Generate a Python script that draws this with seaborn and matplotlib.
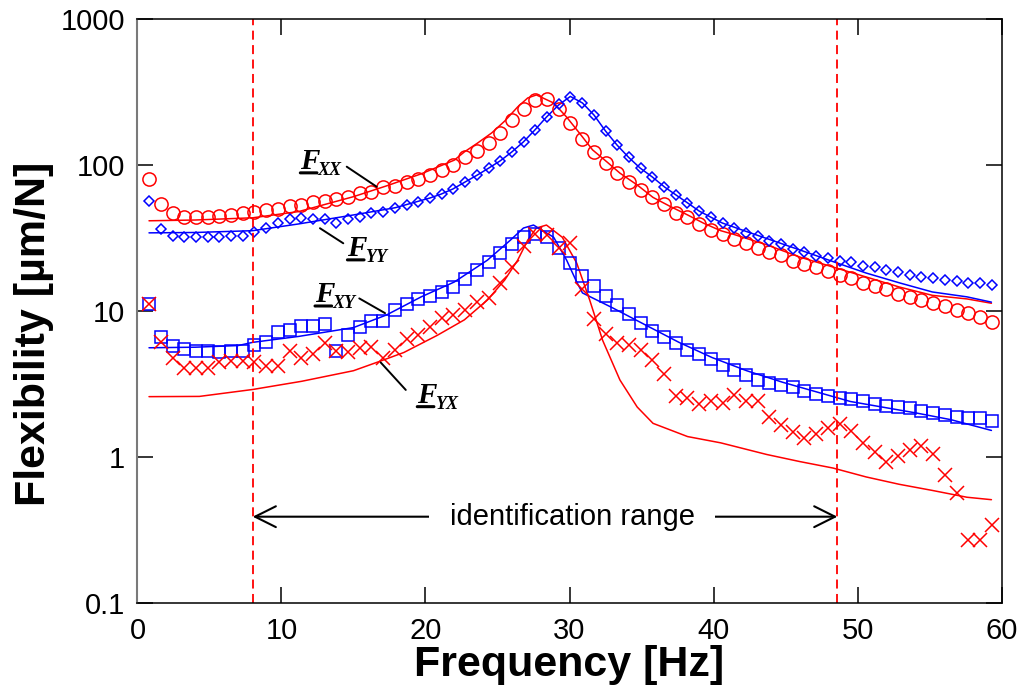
import numpy as np
import seaborn as sns
import matplotlib.pyplot as plt
from matplotlib.ticker import NullLocator

# measured flexibility (um/N), one value per frequency line
fxx_meas = [80, 54, 47, 44, 44, 44, 44.5, 45.5, 47, 48, 49.5, 50, 52, 53, 56, 57, 58.5, 60,
            64, 65, 71, 72, 76, 80, 85, 92, 100, 113, 125, 141, 165, 203, 242, 279, 283, 242,
            193, 150, 123, 103, 88, 76, 67, 60, 54, 47, 44, 39.5, 36, 33.7, 31, 29.2, 27, 25.3,
            24.2, 22, 21, 20, 18.8, 17.6, 16.8, 15.6, 14.8, 14.1, 13.1, 12.5, 11.9, 11.3, 10.8,
            10.2, 9.7, 9.1, 8.4]
fyy_meas = [57, 36.5, 32.8, 32.1, 32.1, 32.1, 32.1, 32.6, 32.6, 34.8, 37, 40, 42.7, 43.6, 42.7,
            42.7, 40.3, 42.7, 44, 47, 47.7, 50.8, 53.2, 55.7, 59.4, 63.3, 68.5, 76.5, 85.4, 95.4,
            106.5, 122.7, 143.6, 173.6, 213, 260, 293, 266, 220, 171, 137, 113, 95.4, 82.8, 70.7,
            62.3, 55, 48.4, 44, 40.1, 37, 34.2, 32.6, 30.1, 28.8, 26.6, 25.4, 23.8, 23.1, 22,
            21.7, 20.3, 20, 19.1, 18.5, 17.6, 17.1, 16.8, 16.2, 16, 15.6, 15.6, 15.1]
fxy_meas = [11.2, 6.6, 5.75, 5.5, 5.3, 5.3, 5.2, 5.3, 5.3, 5.85, 6.1, 7.2, 7.4, 7.9, 7.9, 8.2,
            5.3, 6.8, 7.8, 8.55, 8.55, 10.1, 11.1, 12.1, 12.7, 13.5, 14.6, 16.5, 19.1, 21.7, 25,
            28.8, 32.1, 33.7, 32.1, 27, 21.3, 17.4, 14.8, 12.7, 11, 9.6, 8.3, 7.3, 6.6, 6, 5.4,
            5.1, 4.7, 4.27, 3.93, 3.65, 3.37, 3.2, 3.1, 3.01, 2.83, 2.7, 2.6, 2.55, 2.5, 2.4,
            2.3, 2.25, 2.2, 2.15, 2.07, 2.0, 1.94, 1.88, 1.85, 1.85, 1.77]
fyx_meas = [11.2, 6.1, 4.8, 4.1, 4.1, 4.1, 4.5, 4.55, 4.55, 4.5, 4.2, 4.2, 5.3, 4.8, 5.05, 6.0,
            5.3, 5.25, 5.6, 5.7, 4.8, 5.4, 6.4, 6.8, 7.8, 8.9, 9.4, 10.2, 11.5, 12.3, 15.6, 20,
            28, 33.7, 33.2, 27, 29.2, 14.2, 8.8, 7.0, 6.0, 5.85, 5.4, 4.6, 3.7, 2.6, 2.55, 2.3,
            2.4, 2.35, 2.65, 2.4, 2.4, 1.87, 1.66, 1.48, 1.35, 1.43, 1.57, 1.69, 1.5, 1.25, 1.08,
            0.93, 1.01, 1.11, 1.19, 1.05, 0.75, 0.57, 0.27, 0.27, 0.34]
freq_step = 0.8125
freq = freq_step * np.arange(1, len(fxx_meas) + 1)

# identified model curves
fxx_fit_f = [0.8, 4, 8, 11.2, 15, 17.3, 19.7, 22, 22.7, 23.6, 24.6, 25.5, 26.4, 27.1, 27.7, 28.9,
             29.8, 30.7, 31.6, 32.6, 33.5, 34.7, 35.8, 37, 38.2, 39.3, 40.5, 41.4, 43.7, 46,
             48.3, 50.6, 52.9, 55.2, 57.6, 59.3]
fxx_fit = [41.5, 42, 43.5, 48, 60.7, 72, 87, 108, 123, 141, 166, 200, 250, 288, 302, 266,
           213, 165, 127, 105, 88, 73, 60, 52, 45.5, 40, 35.5, 33.5, 28.4, 23.4,
           20, 17.1, 14.6, 12.8, 12.1, 11.3]
fyy_fit_f = [0.8, 4, 8, 11.2, 15, 17.9, 20.3, 21.1, 21.9, 22.75, 23.6, 24.4, 25.2, 26.0, 26.8,
             27.6, 28.4, 29.25, 30.06, 30.9, 31.7, 32.5, 33.3, 34.1, 34.9, 35.75, 36.6, 37.4,
             38.2, 39.0, 39.8, 40.6, 42.3, 44.7, 47.1, 48.3, 50.6, 52.9, 55.2, 57.6, 59.3]
fyy_fit = [34.3, 34.5, 35.5, 39.5, 45.5, 51, 59.4, 63.3, 68.5, 76.5, 85.4, 95.4, 107, 123, 144,
           174, 213, 258, 295, 266, 220, 171, 137, 113, 95.4, 82.8, 70.7, 62.3,
           55, 48.4, 44, 40.1, 35, 29, 24, 21.8, 18.2, 15.6, 13.5, 12.5, 11.5]
fxy_fit_f = [0.8, 4, 7, 8, 11.2, 15, 17.3, 19.7, 22, 24.3, 25.9, 26.8, 27.5, 28.9, 29.8, 30.5,
             30.9, 33, 35.3, 37.6, 39.9, 42.3, 44.8, 49.5, 54.1, 56.5, 59.3]
fxy_fit = [5.6, 5.65, 5.8, 6.1, 6.7, 7.7, 9.4, 12.5, 15.8, 22.3, 30.6, 37, 38.8, 32, 22.3, 15.8,
           13.3, 10.5, 8.0, 6.1, 4.8, 3.9, 3.25, 2.4, 2.0, 1.8, 1.52]
fyx_fit_f = [0.8, 4.3, 8, 11.4, 15, 16.9, 18.5, 20.8, 22.7, 24.3, 25.5, 26.4, 27.1, 27.7, 28.4,
             29.5, 30.5, 31.4, 32.3, 33.5, 34.7, 35.8, 38.2, 40.5, 43.7, 46, 48.3, 50.6, 52.9,
             55.2, 57.6, 59.3]
fyx_fit = [2.59, 2.6, 2.9, 3.3, 3.9, 4.55, 5.2, 6.8, 8.7, 11.9, 16.3, 22.3, 30.6, 37, 38.8,
           32, 21.3, 11.9, 6.3, 3.37, 2.2, 1.7, 1.38, 1.25, 1.04, 0.93, 0.84, 0.73, 0.65,
           0.59, 0.53, 0.51]

ident_range = [8.0, 48.6]
arrow_level = 0.39

curve_names = ['XX', 'YY', 'XY', 'YX']
name_pos = [(11.28, 93.9), (14.55, 23.8), (12.3, 11.5), (19.4, 2.35)]
leader_from = [(14.53, 97.4), (14.29, 29.1), (15.40, 12.2), (18.63, 2.88)]
leader_to = [(16.61, 71.0), (12.67, 36.9), (17.19, 9.67), (16.89, 4.44)]

sns.set_style('ticks')
plt.rcParams['font.family'] = ['Liberation Sans', 'DejaVu Sans']
plt.rcParams['text.color'] = 'black'
plt.rcParams['axes.labelcolor'] = 'black'
plt.rcParams['xtick.color'] = 'black'
plt.rcParams['ytick.color'] = 'black'

fig = plt.figure(figsize=(10.23, 6.87), dpi=100)
ax = fig.add_axes([0.1344, 0.1223, 0.8446, 0.8500])

# fitted curves
sns.lineplot(x=fxx_fit_f, y=fxx_fit, color='red', lw=1.1, ax=ax)
sns.lineplot(x=fyy_fit_f, y=fyy_fit, color='blue', lw=1.1, ax=ax)
sns.lineplot(x=fxy_fit_f, y=fxy_fit, color='blue', lw=1.1, ax=ax)
sns.lineplot(x=fyx_fit_f, y=fyx_fit, color='red', lw=1.1, ax=ax)

# measured points
mk = dict(linestyle='none', markerfacecolor='none', markeredgewidth=1.1, ax=ax)
sns.lineplot(x=freq, y=fxx_meas, marker='o', ms=9.5, color='red', markeredgecolor='red', **mk)
sns.lineplot(x=freq, y=fyy_meas, marker='D', ms=4.6, color='blue', markeredgecolor='blue', **mk)
sns.lineplot(x=freq, y=fxy_meas, marker='s', ms=8, color='blue', markeredgecolor='blue', **mk)
sns.lineplot(x=freq, y=fyx_meas, marker='x', ms=10, color='red', markeredgecolor='red', **mk)

# identification range
for f in ident_range:
    ax.axvline(f, color='red', ls=(0, (5, 3)), lw=1.3)
ax.annotate('', xy=(ident_range[0], arrow_level), xytext=(ident_range[1], arrow_level),
            arrowprops=dict(arrowstyle='<->,head_length=1.0,head_width=0.5', mutation_scale=15,
                            lw=1.5, color='black', shrinkA=0, shrinkB=0))
ax.text(sum(ident_range) / 2 + 1.9, arrow_level, 'identification range', ha='center', va='center',
        fontsize=21, color='black', zorder=5,
        bbox=dict(boxstyle='square,pad=0.7', fc='white', ec='none'))

# curve names F_ij with underlined F
for name, pos, p0, p1 in zip(curve_names, name_pos, leader_from, leader_to):
    t = ax.text(pos[0], pos[1], 'F', fontsize=21, family='Liberation Serif', weight='bold',
                style='italic', ha='left', va='baseline', color='black')
    ax.annotate(name, xy=(1.0, 0.0), xycoords=t, xytext=(-1, 0), textcoords='offset points',
                fontsize=13, family='Liberation Serif', weight='bold', style='italic',
                ha='left', va='baseline', color='black')
    ax.annotate('', xy=(0.02, 0.08), xycoords=t, xytext=(0.88, 0.08), textcoords=t,
                arrowprops=dict(arrowstyle='-', lw=2.2, color='black', shrinkA=0, shrinkB=0))
    ax.annotate('', xy=p1, xytext=p0,
                arrowprops=dict(arrowstyle='-', lw=1.4, color='black', shrinkA=0, shrinkB=0))

ax.set_yscale('log')
ax.set_xlim(0, 60)
ax.set_ylim(0.1, 1000)
ax.set_xticks([0, 10, 20, 30, 40, 50, 60])
ax.set_yticks([0.1, 1, 10, 100, 1000])
ax.set_yticklabels(['0.1', '1', '10', '100', '1000'])
ax.yaxis.set_minor_locator(NullLocator())
ax.tick_params(which='major', direction='in', length=11.5, width=1.1, top=True, right=True,
               labelsize=21, colors='black')
ax.tick_params(axis='x', pad=10)
ax.tick_params(axis='y', pad=9)
for s in ['top', 'bottom', 'right']:
    ax.spines[s].set_color('black')
    ax.spines[s].set_linewidth(1.1)
ax.spines['left'].set_color('#7a7a7a')
ax.spines['left'].set_linewidth(1.5)

ax.set_xlabel('Frequency [Hz]', fontsize=31, fontweight='bold', color='black')
ax.set_ylabel('Flexibility [µm/N]', fontsize=31, fontweight='bold', color='black')
ax.xaxis.set_label_coords(0.5, -0.072)
ax.yaxis.set_label_coords(-0.097, 0.46)

fig.savefig('out.png', dpi=100)
